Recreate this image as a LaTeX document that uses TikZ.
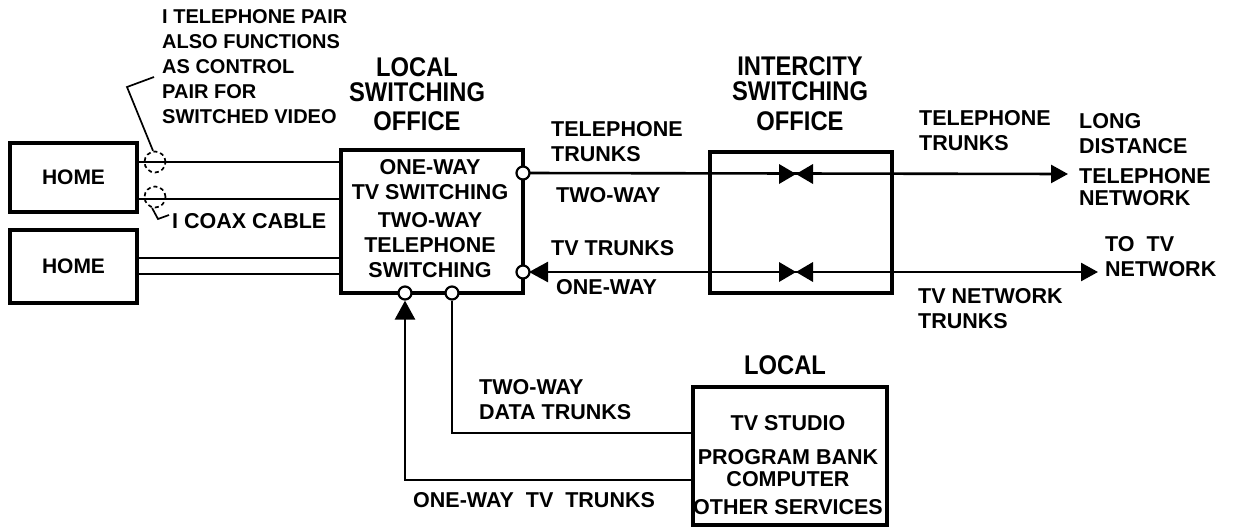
\documentclass[tikz,border=0pt]{standalone}
\usepackage{fontspec}
\setmainfont{Liberation Sans}
\newfontfamily\titlefont[FakeStretch=0.88]{Liberation Sans}
\usetikzlibrary{calc,arrows.meta}
\tikzset{
  bigtip/.tip={Triangle[length=19pt,width=20pt]},
  endtip/.tip={Triangle[length=17pt,width=18pt]},
}
\begin{document}
\begin{tikzpicture}[x=1pt,y=-1pt,
  lbl/.style={font=\bfseries\fontsize{21.5}{25}\selectfont, inner sep=0pt, align=left},
  notelbl/.style={lbl, font=\bfseries\fontsize{20}{25}\selectfont},
  lblc/.style={lbl, align=center},
  ttl/.style={font=\titlefont\bfseries\fontsize{27}{25}\selectfont, inner sep=0pt, align=center},
  box/.style={draw, line width=4.8pt, inner sep=0pt},
  homebox/.style={draw, line width=4.2pt, inner sep=0pt, font=\bfseries\fontsize{21}{25}\selectfont},
  wire/.style={line width=2.6pt},
  port/.style={circle, draw, fill=white, line width=2.2pt, minimum size=13pt, inner sep=0pt},
  ring/.style={circle, draw, dash pattern=on 4pt off 3pt, line width=1.7pt, minimum size=21pt, inner sep=0pt},
  leader/.style={line width=1.7pt},
]
\useasboundingbox (0,0) rectangle (1241,527);

% boxes
\node[homebox, minimum width=127pt, minimum height=69pt] (home1) at (73.5,177.5) {HOME};
\node[homebox, minimum width=127pt, minimum height=73pt] (home2) at (73.5,266.5) {HOME};
\node[box, minimum width=182pt, minimum height=143pt] (lso) at (432,221.5) {};
\node[box, minimum width=182pt, minimum height=141pt] (ico) at (801,222.5) {};
\node[box, minimum width=194pt, minimum height=138pt] (studio) at (790,456) {};

% titles
\node[ttl] (lsotitle) at (417,94) {LOCAL\\SWITCHING\\[4pt]OFFICE};
\node[ttl] (icotitle) at (800,94) {INTERCITY\\SWITCHING\\[5pt]OFFICE};
\node[ttl] (studiotitle) at (785,365) {LOCAL};

% texts inside boxes
\node[lblc] (lsotxt1) at (430,179.5) {ONE-WAY\\TV SWITCHING};
\node[lblc] (lsotxt2) at (430,245) {TWO-WAY\\TELEPHONE\\SWITCHING};
\node[lblc] (studiotxt) at (788,465) {TV STUDIO\\[9pt]PROGRAM BANK\\[-3pt]COMPUTER\\[3pt]OTHER SERVICES};

% y levels
\coordinate (ya) at (0,162);
\coordinate (yb) at (0,199);
\coordinate (yc) at (0,258);
\coordinate (yd) at (0,274);
\coordinate (ye) at (0,480);
\coordinate (yf) at (0,433);

% home wires
\draw[wire] (home1.east |- ya) -- (lso.west |- ya);
\draw[wire] (home1.east |- yb) -- (lso.west |- yb);
\draw[wire] (home2.east |- yc) -- (lso.west |- yc);
\draw[wire] (home2.east |- yd) -- (lso.west |- yd);

% dashed rings
\node[ring] (ring1) at (155,162) {};
\node[ring] (ring2) at (155,197) {};

% annotation for telephone pair
\node[notelbl, anchor=west] (pairnote) at (162,67) {I TELEPHONE PAIR\\ALSO FUNCTIONS\\AS CONTROL\\PAIR FOR\\SWITCHED VIDEO};
\coordinate (pn1) at (154,77);
\coordinate (pn2) at (127,87);
\draw[leader] (pn1) -- (pn2) -- (ring1.100);

% coax annotation
\coordinate (cx1) at (158,219);
\coordinate (cx2) at (169,215);
\draw[leader] (ring2.255) -- (cx1) -- (cx2);
\node[lbl, anchor=west] (coax) at (172,221) {I COAX CABLE};

% ports on local office
\coordinate (ldt) at (1068,174);
\coordinate (tvn) at (1098,272);
\coordinate (p1c) at (523,173);
\coordinate (p2c) at (529,272);
\draw[wire, -{endtip}] (p1c) -- (ldt);
\draw[wire, {bigtip}-{endtip}] (p2c) -- (tvn);
\node[port] (p1) at (523,173) {};
\node[port] (p2) at (523,272) {};
\node[port] (p3) at (405,293) {};
\node[port] (p4) at (452,293) {};

% bowties
\coordinate (bt1) at (796,174);
\coordinate (bt2) at (796,272);
\foreach \b in {bt1,bt2}{
  \fill (\b) -- ++(-17,-10) -- ++(0,20) -- cycle;
  \fill (\b) -- ++(17,-10) -- ++(0,20) -- cycle;
}

% bottom trunks
\draw[wire, {bigtip}-] (p3.south) |- (studio.west |- ye);
\draw[wire] (p4.south) |- (studio.west |- yf);

% trunk labels
\node[lbl, anchor=west] (teltr1) at (551,142) {TELEPHONE\\TRUNKS};
\node[lbl, anchor=west] (twoway1) at (556,195) {TWO-WAY};
\node[lbl, anchor=west] (tvtr) at (551,248) {TV TRUNKS};
\node[lbl, anchor=west] (oneway1) at (556,287) {ONE-WAY};
\node[lbl, anchor=west] (teltr2) at (919,131) {TELEPHONE\\TRUNKS};
\node[lbl, anchor=west] (ldtxt) at (1079,160) {LONG\\DISTANCE\\[5pt]TELEPHONE\\[-3pt]NETWORK};
\node[lbl, anchor=west] (tvntxt) at (1105,256.5) {TO\ \ TV\\NETWORK};
\node[lbl, anchor=west] (tvntr) at (918,308.5) {TV NETWORK\\TRUNKS};
\node[lbl, anchor=west] (datatr) at (479,400) {TWO-WAY\\DATA TRUNKS};
\node[lbl, anchor=west] (onewaytv) at (413,500) {ONE-WAY\ \ TV\ \ TRUNKS};
\end{tikzpicture}
\end{document}
